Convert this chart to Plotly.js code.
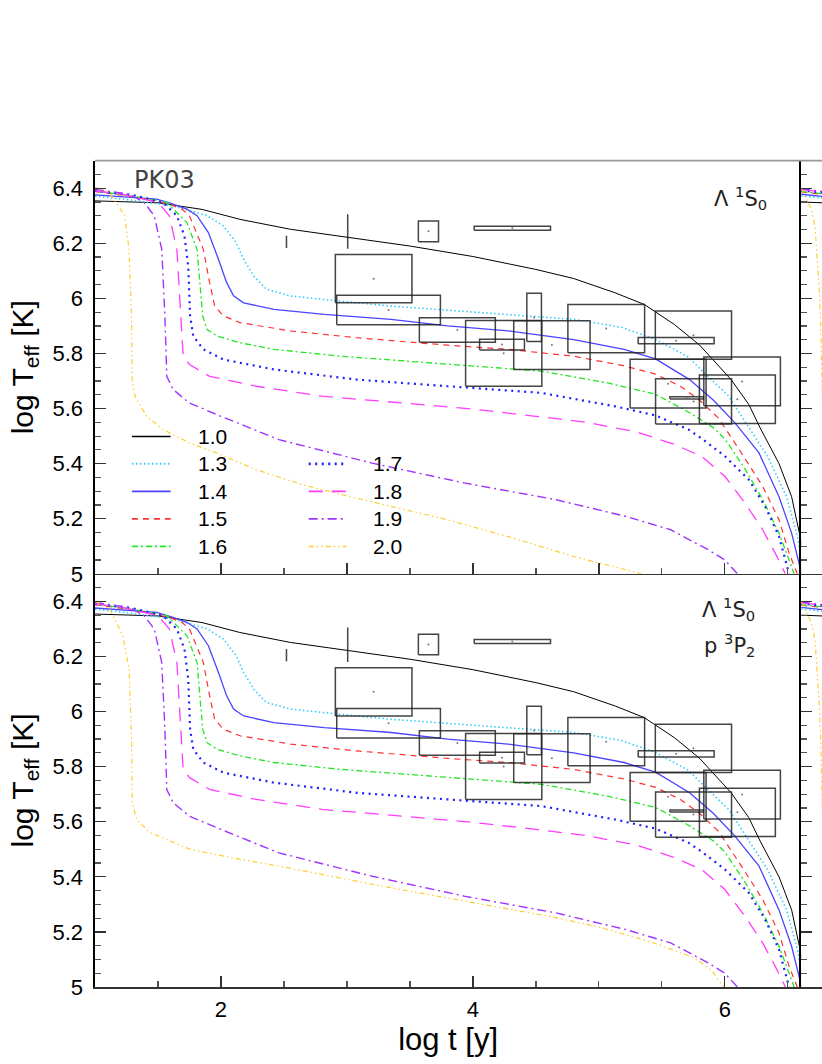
<!DOCTYPE html>
<html><head><meta charset="utf-8">
<script src="https://cdn.plot.ly/plotly-3.0.1.min.js"></script>
<style>html,body{margin:0;padding:0;background:#fff;overflow:hidden}#chart{width:822px;height:1064px}</style>
</head><body><div id="chart"></div>
<script>
// ---------- data ----------
const seriesNames = ['1.0','1.3','1.4','1.5','1.6','1.7','1.8','1.9','2.0'];

const x10 = [1.0,1.5,1.85,2.15,2.55,3.0,3.5,4.0,4.5,4.8,5.13,5.36,5.6,5.8,6.05,6.19,6.28,6.43,6.53,6.6,6.63,6.66];
const y10 = [6.354,6.347,6.323,6.287,6.251,6.221,6.19,6.152,6.105,6.072,6.02,5.978,5.905,5.83,5.705,5.615,5.53,5.40,5.28,5.13,5.06,5.0];

const x13 = [1.0,1.3,1.62,1.75,1.89,2.02,2.12,2.18,2.26,2.36,2.55,2.95,3.35,3.8,4.28,4.8,5.18,5.45,5.70,5.87,6.03,6.15,6.34,6.49,6.58,6.62];
const y13 = [6.372,6.356,6.336,6.318,6.30,6.263,6.203,6.142,6.081,6.033,6.009,5.99,5.972,5.957,5.942,5.924,5.895,5.851,5.79,5.717,5.645,5.56,5.426,5.28,5.13,5.0];

const x14 = [1.0,1.49,1.62,1.73,1.81,1.90,1.98,2.045,2.10,2.18,2.42,2.82,3.35,3.8,4.28,4.8,5.2,5.45,5.72,5.91,6.08,6.27,6.43,6.53,6.61];
const y14 = [6.376,6.36,6.342,6.324,6.30,6.239,6.142,6.057,6.009,5.984,5.96,5.942,5.924,5.90,5.882,5.85,5.815,5.78,5.705,5.63,5.548,5.44,5.28,5.148,5.0];

const x15 = [1.0,1.3,1.59,1.69,1.75,1.86,1.91,1.95,2.02,2.15,2.55,3.08,3.8,4.28,4.8,5.2,5.45,5.65,5.8,5.95,6.13,6.3,6.43,6.51,6.575];
const y15 = [6.388,6.37,6.342,6.324,6.30,6.178,6.057,5.972,5.936,5.912,5.882,5.857,5.83,5.815,5.79,5.755,5.725,5.68,5.63,5.565,5.44,5.318,5.196,5.075,5.0];

const x16 = [1.0,1.3,1.57,1.62,1.73,1.81,1.83,1.855,1.89,1.97,2.15,2.42,2.95,3.8,4.54,5.07,5.45,5.72,5.91,6.0,6.16,6.3,6.43,6.51,6.55];
const y16 = [6.39,6.372,6.348,6.324,6.275,6.178,6.057,5.936,5.887,5.863,5.839,5.815,5.79,5.76,5.736,5.693,5.652,5.585,5.53,5.49,5.381,5.27,5.148,5.05,5.0];

const x17 = [1.0,1.3,1.54,1.65,1.71,1.74,1.755,1.78,1.86,2.02,2.42,3.08,3.8,4.54,5.13,5.45,5.71,5.82,6.0,6.19,6.32,6.43,6.51];
const y17 = [6.39,6.375,6.348,6.30,6.227,6.118,5.936,5.863,5.815,5.778,5.742,5.705,5.681,5.657,5.608,5.575,5.524,5.49,5.427,5.342,5.245,5.136,5.0];

const x18 = [1.0,1.2,1.5,1.59,1.65,1.68,1.70,1.75,1.91,2.28,2.8,3.5,4.0,4.5,4.9,5.3,5.6,5.82,6.0,6.16,6.3,6.4,6.48];
const y18 = [6.39,6.38,6.348,6.30,6.178,5.936,5.79,5.76,5.717,5.681,5.645,5.618,5.598,5.572,5.55,5.515,5.47,5.425,5.354,5.257,5.16,5.075,5.0];

const x19 = [1.0,1.275,1.39,1.47,1.53,1.555,1.57,1.62,1.75,2.0,2.46,3.2,3.93,4.66,5.21,5.57,5.87,6.0,6.10];
const y19 = [6.396,6.378,6.348,6.30,6.178,5.936,5.717,5.669,5.62,5.572,5.487,5.402,5.33,5.269,5.209,5.16,5.087,5.05,5.0];

const x20 = [1.0,1.1,1.17,1.235,1.27,1.29,1.295,1.32,1.41,1.54,1.75,1.97,2.28,2.65,3.0,3.5,3.8,4.28,4.8,5.34];
const y20 = [6.402,6.39,6.348,6.30,6.178,5.936,5.70,5.64,5.572,5.524,5.475,5.438,5.378,5.323,5.283,5.228,5.196,5.135,5.063,5.0];

// lower panel: the 2.0 curve differs
const x20b = [1.0,1.116,1.22,1.27,1.29,1.296,1.33,1.434,1.753,2.1,2.46,3.2,3.93,4.66,5.02,5.39,5.76,5.9,5.99];
const y20b = [6.40,6.373,6.276,6.155,5.912,5.67,5.609,5.561,5.50,5.468,5.439,5.373,5.312,5.252,5.215,5.167,5.106,5.058,5.0];

// neighbouring (cut-off) panel at the right edge
const sideX = [1.0,1.05,1.1,1.17];
const side10 = [6.350,6.349,6.348,6.347];
const side13 = [6.372,6.370,6.367,6.364];
const side14 = [6.378,6.376,6.373,6.370];
const side15 = [6.386,6.384,6.381,6.378];
const side16 = [6.388,6.386,6.383,6.380];
const side17 = [6.392,6.390,6.387,6.384];
const side18 = [6.395,6.393,6.390,6.386];
const side19 = [6.398,6.396,6.392,6.388];
const side20x = [1.0,1.044,1.083,1.11,1.128,1.144,1.155,1.163,1.17];
const side20y = [6.40,6.357,6.32,6.26,6.14,6.02,5.898,5.777,5.60];

// observational error boxes (x range, y range)
const boxX0 = [2.52,3.006,3.567,2.908,2.919,3.575,4.010,3.942,4.053,4.428,4.324,4.754,5.448,5.312,5.248,5.833,5.450,5.798,5.564];
const boxX1 = [2.52,3.006,3.727,3.516,3.742,4.178,4.616,4.547,4.409,4.544,4.930,5.363,6.053,5.915,5.851,6.441,6.053,6.401,5.830];
const boxY0 = [6.183,6.180,6.206,5.984,5.904,5.841,6.247,5.681,5.813,5.843,5.742,5.803,5.779,5.835,5.602,5.610,5.544,5.546,5.635];
const boxY1 = [6.227,6.305,6.281,6.159,6.011,5.930,6.262,5.920,5.852,6.019,5.919,5.978,5.954,5.858,5.779,5.787,5.708,5.722,5.643];

const yTickVals = [5,5.2,5.4,5.6,5.8,6,6.2,6.4];
const yTickText = ['5','5.2','5.4','5.6','5.8','6','6.2','6.4'];
const xTickValsTop = [1,2,3,4,5,6];
const xTickValsBottom = [2,4,6];
const xTickTextBottom = ['2','4','6'];

// ---------- styles ----------
const styles = [
  {color:'#000000', width:1.0, dash:'solid'},
  {color:'#33ccff', width:1.6, dash:'1.5px,2.5px'},
  {color:'#4a44ff', width:1.3, dash:'solid'},
  {color:'#ff3030', width:1.2, dash:'6px,5px'},
  {color:'#22e622', width:1.3, dash:'6px,3px,2px,3px'},
  {color:'#1f1fff', width:2.2, dash:'2px,4.5px'},
  {color:'#ff3cff', width:1.3, dash:'14px,9px'},
  {color:'#a034ff', width:1.4, dash:'9px,4px,2px,4px'},
  {color:'#ffcc33', width:1.2, dash:'5px,3px,1.5px,3px,1.5px,3px'}
];

const topX = [x10,x13,x14,x15,x16,x17,x18,x19,x20];
const topY = [y10,y13,y14,y15,y16,y17,y18,y19,y20];
const botX = [x10,x13,x14,x15,x16,x17,x18,x19,x20b];
const botY = [y10,y13,y14,y15,y16,y17,y18,y19,y20b];
const sdX = [sideX,sideX,sideX,sideX,sideX,sideX,sideX,sideX,side20x];
const sdY = [side10,side13,side14,side15,side16,side17,side18,side19,side20y];

const traces = [];
for (let i = 0; i < seriesNames.length; i++) {
  const ln = {color: styles[i].color, width: styles[i].width, dash: styles[i].dash};
  const common = {type:'scatter', mode:'lines', name: seriesNames[i], line: ln, showlegend:false, hoverinfo:'skip'};
  traces.push(Object.assign({x: topX[i], y: topY[i], xaxis:'x', yaxis:'y'}, common));
  traces.push(Object.assign({x: botX[i], y: botY[i], xaxis:'x2', yaxis:'y2'}, common));
  traces.push(Object.assign({x: sdX[i], y: sdY[i], xaxis:'x3', yaxis:'y3'}, common));
  traces.push(Object.assign({x: sdX[i], y: sdY[i], xaxis:'x4', yaxis:'y4'}, common));
}

// boxes
const bx = [], by = [], cx = [], cy = [];
for (let i = 0; i < boxX0.length; i++) {
  bx.push(boxX0[i], boxX1[i], boxX1[i], boxX0[i], boxX0[i], null);
  by.push(boxY0[i], boxY0[i], boxY1[i], boxY1[i], boxY0[i], null);
  cx.push((boxX0[i] + boxX1[i]) / 2);
  cy.push((boxY0[i] + boxY1[i]) / 2);
}
[['x','y'],['x2','y2']].forEach(([xa,ya]) => {
  traces.push({type:'scatter', mode:'lines', x: bx, y: by, xaxis: xa, yaxis: ya, line:{color:'rgba(35,35,35,0.85)', width:1.5}, showlegend:false, hoverinfo:'skip', connectgaps:false});
  traces.push({type:'scatter', mode:'markers', x: cx, y: cy, xaxis: xa, yaxis: ya, marker:{color:'#777', size:2}, showlegend:false, hoverinfo:'skip'});
});

// ---------- layout ----------
const W = 822, H = 1064, ML = 95.4, MB = 76.7;
const PW = W - ML, PH = H - MB;
const px2x = px => (px - ML) / PW;
const py2y = py => (PH - py) / PH;
const xSplit = px2x(801.2);
const yMid = py2y(574), yTop = py2y(160.7);
const FONT = 'Liberation Sans, Arial, sans-serif';
const LBLFONT = 'DejaVu Sans, sans-serif';

function yAxis(domain, anchor, showLabels, withTitle) {
  const a = {
    domain: domain, anchor: anchor, range: [5, 6.5], showgrid: false, zeroline: false,
    showline: true, linecolor: '#000', linewidth: 1.6,
    tickmode: 'array', tickvals: yTickVals, ticktext: yTickText,
    ticks: 'inside', ticklen: 11, tickwidth: 1.3, tickcolor: '#333',
    minor: {tickmode: 'linear', tick0: 5, dtick: 0.05, ticks: 'inside', ticklen: 6, tickwidth: 1.2, tickcolor: '#555', showgrid: false},
    showticklabels: showLabels, ticklabelstandoff: 6,
    tickfont: {family: FONT, size: 22, color: '#000'}
  };
  if (withTitle) a.title = {text: 'log T<sub>eff</sub> [K]', font: {family: FONT, size: 30, color: '#000'}, standoff: 10};
  return a;
}
function xAxis(domain, anchor, range, tickvals, ticktext, withTitle) {
  const a = {
    domain: domain, anchor: anchor, range: range, showgrid: false, zeroline: false,
    showline: true, linecolor: '#333', linewidth: 1.6,
    ticks: 'inside', ticklen: 11, tickwidth: 1.3, tickcolor: '#333',
    minor: {tickmode: 'linear', tick0: 0, dtick: 0.5, ticks: 'inside', ticklen: 6, tickwidth: 1.2, tickcolor: '#555', showgrid: false},
    showticklabels: !!ticktext, ticklabelstandoff: 2,
    tickfont: {family: FONT, size: 22, color: '#000'}
  };
  if (tickvals) { a.tickmode = 'array'; a.tickvals = tickvals; if (ticktext) a.ticktext = ticktext; }
  else { a.ticks = ''; a.minor = {ticks: ''}; }
  if (withTitle) a.title = {text: 'log t [y]', font: {family: FONT, size: 31, color: '#000'}, standoff: 5};
  return a;
}

// hand-drawn key (two columns, like the original)
const legCol = [0,0,0,0,0,1,1,1,1];
const legRow = [0,1,2,3,4,1,2,3,4];
const legRowY = [436.7, 464.0, 491.5, 519.0, 546.6];
const legLineX = [[132.3, 171.0], [309.0, 346.7]];
const legTextX = [196.0, 371.7];

const shapes = [
  {type: 'line', xref: 'paper', yref: 'paper', x0: 0, x1: 1, y0: yTop, y1: yTop, line: {color: '#999', width: 1.6}}
];
const annotations = [
  {xref: 'paper', yref: 'paper', x: px2x(132), y: py2y(180.5), xanchor: 'left', yanchor: 'middle', showarrow: false,
   text: 'PK03', font: {family: LBLFONT, size: 24, color: '#444'}},
  {xref: 'paper', yref: 'paper', x: px2x(712), y: py2y(198), xanchor: 'left', yanchor: 'middle', showarrow: false,
   text: 'Λ <sup>1</sup>S<sub>0</sub>', font: {family: LBLFONT, size: 21, color: '#222'}},
  {xref: 'paper', yref: 'paper', x: px2x(700), y: py2y(609), xanchor: 'left', yanchor: 'middle', showarrow: false,
   text: 'Λ <sup>1</sup>S<sub>0</sub>', font: {family: LBLFONT, size: 21, color: '#222'}},
  {xref: 'paper', yref: 'paper', x: px2x(702), y: py2y(645), xanchor: 'left', yanchor: 'middle', showarrow: false,
   text: 'p <sup>3</sup>P<sub>2</sub>', font: {family: LBLFONT, size: 21, color: '#222'}}
];
for (let i = 0; i < seriesNames.length; i++) {
  const c = legCol[i], yy = py2y(legRowY[legRow[i]]);
  shapes.push({type: 'line', xref: 'paper', yref: 'paper', x0: px2x(legLineX[c][0]), x1: px2x(legLineX[c][1]), y0: yy, y1: yy,
               line: {color: styles[i].color, width: styles[i].width + 0.4, dash: styles[i].dash}});
  annotations.push({xref: 'paper', yref: 'paper', x: px2x(legTextX[c]), y: yy, xanchor: 'left', yanchor: 'middle', showarrow: false,
                    text: seriesNames[i], font: {family: FONT, size: 21, color: '#000'}});
}

const layout = {
  width: W, height: H, autosize: false,
  margin: {l: ML, r: 0, t: 0, b: MB, pad: 0},
  paper_bgcolor: '#fff', plot_bgcolor: 'rgba(0,0,0,0)',
  hovermode: false, showlegend: false,
  xaxis: xAxis([0, xSplit], 'y', [1, 6.606], xTickValsTop, null, false),
  yaxis: yAxis([yMid, yTop], 'x', true, true),
  xaxis2: xAxis([0, xSplit], 'y2', [1, 6.606], xTickValsBottom, xTickTextBottom, true),
  yaxis2: yAxis([0, yMid], 'x2', true, true),
  xaxis3: xAxis([xSplit, 1], 'y3', [1, 1.165], null, null, false),
  yaxis3: Object.assign(yAxis([yMid, yTop], 'x3', false, false), {linewidth: 2}),
  xaxis4: xAxis([xSplit, 1], 'y4', [1, 1.165], null, null, false),
  yaxis4: Object.assign(yAxis([0, yMid], 'x4', false, false), {linewidth: 2}),
  shapes: shapes,
  annotations: annotations
};

Plotly.newPlot('chart', traces, layout, {staticPlot: true, displayModeBar: false});
</script>
</body></html>
